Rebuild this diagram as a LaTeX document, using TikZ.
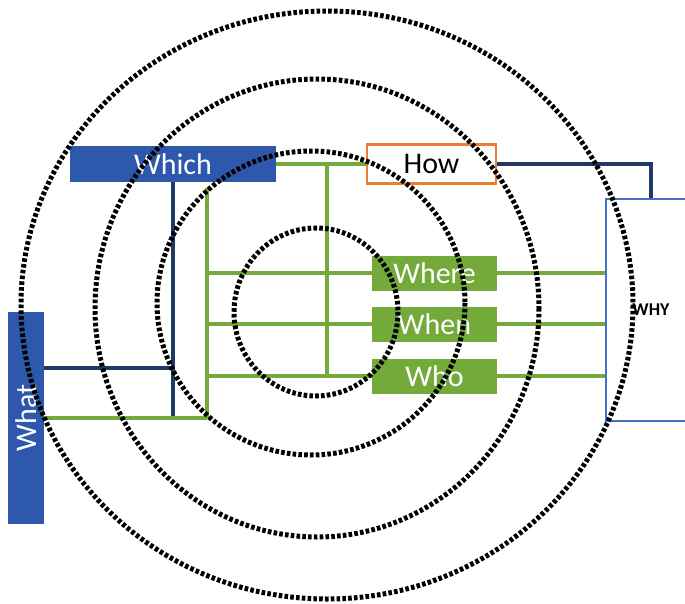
\documentclass[tikz,border=0pt]{standalone}
\usepackage{fontspec}
\setmainfont{Carlito}
\usetikzlibrary{calc}

\definecolor{wblue}{HTML}{2E58AC}
\definecolor{wgreen}{HTML}{74AA3A}
\definecolor{wnavy}{HTML}{1F3864}
\definecolor{worange}{HTML}{ED7D31}
\definecolor{wframe}{HTML}{4472C4}

\tikzset{
    bluebox/.style={fill=wblue, text=white, inner sep=0pt},
    greenbox/.style={fill=wgreen, text=white, inner sep=0pt, minimum width=125pt, minimum height=35pt},
    nline/.style={draw=wnavy, line width=3.2pt},
    gline/.style={draw=wgreen, line width=3.2pt},
    ring/.style={draw=black, line width=5pt, dash pattern=on 3.6pt off 2.2pt}
}

\begin{document}
\begin{tikzpicture}[x=1pt, y=-1pt, font=\fontsize{30}{30}\selectfont]
    \clip (0,0) rectangle (685,604);
    \fill[white] (0,0) rectangle (685,604);

    \node[bluebox, minimum width=206pt, minimum height=36pt] (Which) at (173,164) {Which};
    \node[draw=worange, line width=2.8pt, fill=white, minimum width=129pt, minimum height=39pt, inner sep=0pt] (How) at (431.5,164) {How};
    \node[greenbox] (Where) at (434.5,273) {Where};
    \node[greenbox] (When) at (434.5,324) {When};
    \node[greenbox] (Who) at (434.5,376) {Who};
    \node[bluebox, minimum width=36pt, minimum height=212pt] (What) at (26,418) {\rotatebox{90}{What}};
    \node[draw=wframe, line width=2.8pt, minimum width=90pt, minimum height=222pt, inner sep=0pt,
          font=\fontsize{18}{18}\selectfont\bfseries] (WHY) at (651,310) {WHY};

    % Helper points for the green and navy lines
    \coordinate (wb) at (173,420);
    \coordinate (nv) at (173,368);
    \coordinate (gt) at (327,164);
    \coordinate (gb) at (327,376);
    \coordinate (gl1) at (207,188);
    \coordinate (gl2) at (207,418);

    % Navy lines
    \draw[nline] (Which.south) -- (wb);
    \draw[nline] (nv -| What.east) -- (nv);
    \draw[nline] (How.east) -| (WHY.north);

    % Green lines
    \draw[gline] (Which.east) -- (How.west);
    \draw[gline] (gt) -- (gb);
    \draw[gline] (gl1) -- (gl2);
    \draw[gline] (gl2 -| What.east) -- (gl2);
    \foreach \n in {Where,When,Who} {
        \draw[gline] (gl1 |- \n) -- (\n.west);
        \draw[gline] (\n.east) -- (\n -| WHY.west);
    }

    % Dotted rings
    \draw[ring] (327,305) ellipse [x radius=306, y radius=294];
    \draw[ring] (317,308) ellipse [x radius=222, y radius=229];
    \draw[ring] (311,303) ellipse [x radius=154, y radius=152];
    \draw[ring] (316,312) ellipse [x radius=82, y radius=84];
\end{tikzpicture}
\end{document}
